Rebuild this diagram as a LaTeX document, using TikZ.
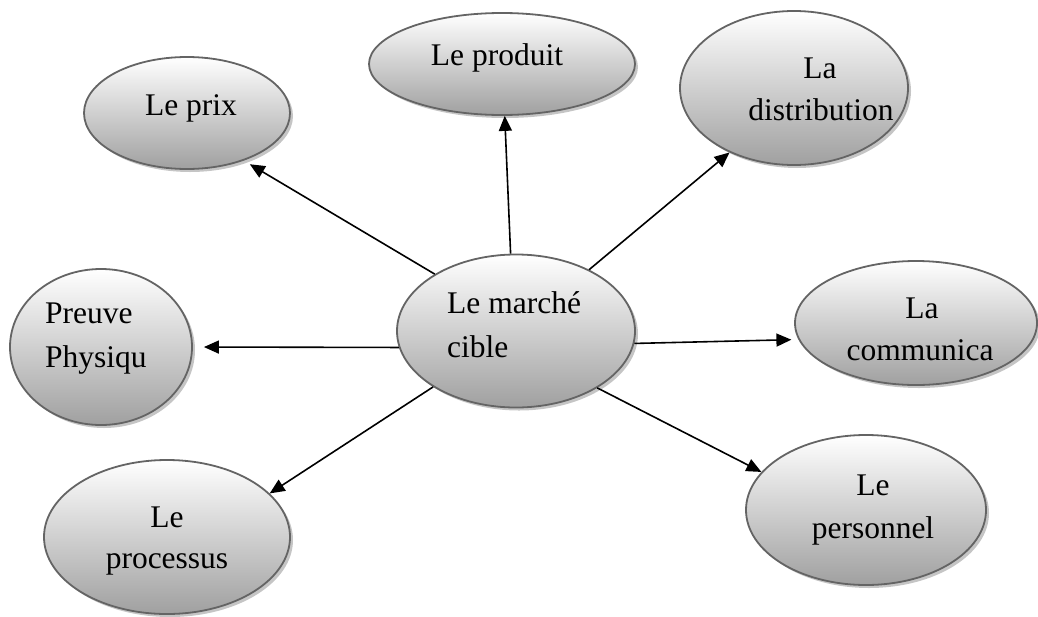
\documentclass[tikz,border=0pt]{standalone}
\usepackage{fontspec}
\setmainfont{Liberation Serif}
\usetikzlibrary{shapes.geometric,shadows,arrows.meta}
\tikzset{
  bubble/.style={ellipse, draw={rgb,255:red,100;green,100;blue,100}, line width=1.8pt,
    top color=white, bottom color={rgb,255:red,160;green,160;blue,160},
    inner sep=0pt, drop shadow={shadow xshift=3pt, shadow yshift=-3pt, fill=black!45, opacity=0.5}},
  lbl/.style={inner sep=0pt, font=\fontsize{31.5}{42}\selectfont},
  link/.style={line width=1.6pt, -{Triangle[length=15pt,width=13pt]}}
}
\begin{document}
\begin{tikzpicture}[x=1pt,y=-1pt]
\useasboundingbox (0,0) rectangle (1038,616);
% ellipses
\node[bubble, minimum width=206pt, minimum height=112pt] (prix) at (187,113) {};
\node[bubble, minimum width=266pt, minimum height=102pt] (produit) at (502,64) {};
\node[bubble, minimum width=228pt, minimum height=154pt] (distrib) at (794,88) {};
\node[bubble, minimum width=182pt, minimum height=156pt] (preuve) at (101,347) {};
\node[bubble, minimum width=238pt, minimum height=153pt] (cible) at (516,331) {};
\node[bubble, minimum width=242pt, minimum height=124pt] (comm) at (916,323) {};
\node[bubble, minimum width=246pt, minimum height=154pt] (process) at (167,537) {};
\node[bubble, minimum width=240pt, minimum height=150pt] (perso) at (866,510) {};
% texts
\node[lbl, anchor=base] (tprix) at (191,115) {Le prix};
\node[lbl, anchor=base] (tproduit) at (497,65) {Le produit};
\node[lbl, anchor=base] (tdistA) at (820,78) {La};
\node[lbl, anchor=base] (tdistB) at (821,120) {distribution};
\node[lbl, anchor=base west] (tpreuveA) at (45,323) {Preuve};
\node[lbl, anchor=base west] (tpreuveB) at (45,367) {Physiqu};
\node[lbl, anchor=base west] (tcibleA) at (447,313) {Le marché};
\node[lbl, anchor=base west] (tcibleB) at (447,357) {cible};
\node[lbl, anchor=base] (tcommA) at (922,318) {La};
\node[lbl, anchor=base] (tcommB) at (920,360) {communica};
\node[lbl, anchor=base] (tprocA) at (167,527) {Le};
\node[lbl, anchor=base] (tprocB) at (167,568) {processus};
\node[lbl, anchor=base] (tpersoA) at (873,495) {Le};
\node[lbl, anchor=base] (tpersoB) at (873,538) {personnel};
% connectors
\draw[link, shorten >=7pt] (cible.145) -- (prix.-40);
\draw[link] (cible.94) -- (produit.-87);
\draw[link] (cible.40) -- (distrib.-135);
\draw[link, shorten >=11pt] (cible.188) -- (preuve.0);
\draw[link, shorten >=7pt] (cible.-6) -- (comm.188);
\draw[link] (cible.214) -- (process.23.5);
\draw[link] (cible.-35) -- (perso.160.8);
\end{tikzpicture}
\end{document}
